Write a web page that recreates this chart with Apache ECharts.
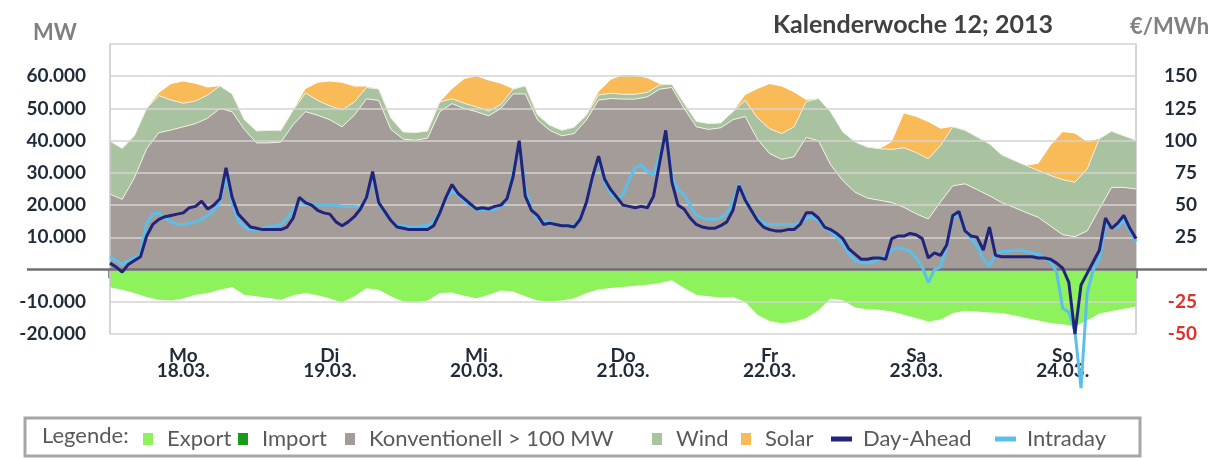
<!DOCTYPE html>
<html>
<head>
<meta charset="utf-8">
<script src="https://cdn.jsdelivr.net/npm/echarts@6/dist/echarts.min.js"></script>
<style>
  html, body { margin: 0; padding: 0; background: #fff; }
  #chart { width: 1225px; height: 458px; }
</style>
</head>
<body>
<div id="chart"></div>
<script>
// Kalenderwoche 12/2013 - Stromerzeugung (MW) und Börsenpreise (€/MWh)
const days = ['Mo\n18.03.', 'Di\n19.03.', 'Mi\n20.03.', 'Do\n21.03.', 'Fr\n22.03.', 'Sa\n23.03.', 'So\n24.03.']

// Flächen: alle 2 Stunden (h0 .. h168)
const konventionell = [
  23400, 21800, 28500, 37500, 42500, 43300, 44300, 45300, 47000, 50000, 49000, 43500,
  39300, 39300, 39600, 45000, 49000, 47900, 46500, 44300, 47900, 53000, 52500, 43500,
  40500, 40100, 40800, 49000, 51500, 50000, 49000, 47700, 50000, 54500, 54500, 46500,
  43200, 41500, 42200, 46400, 52600, 53100, 52900, 52900, 53600, 56000, 56500, 50000,
  44300, 43500, 44000, 46500, 47500, 40500, 36000, 34200, 35000, 41000, 40000, 32500,
  27600, 24000, 22200, 21500, 20800, 19300, 17300, 15700, 21000, 26000, 26600, 24800,
  22900, 20800, 19300, 17700, 16200, 13500, 10800, 10200, 12000, 18800, 25500, 25500,
  25000
]
const wind = [
  16400, 15800, 13000, 12500, 11500, 9300, 7300, 7000, 7200, 7000, 5500, 3000,
  3700, 3900, 3600, 4500, 5800, 4600, 4300, 5200, 4100, 3500, 3500, 3500,
  2200, 2400, 2200, 3000, 1500, 1600, 1500, 1500, 1200, 1500, 2500, 1500,
  1600, 1700, 2000, 1500, 1600, 1600, 1500, 1500, 1400, 1300, 1000, 1600,
  1700, 1800, 1500, 2500, 5000, 6600, 7700, 8000, 9300, 11100, 13100, 16400,
  15100, 15600, 15800, 16000, 16500, 18500, 19000, 18700, 17500, 18300, 16600, 16300,
  16100, 14800, 14600, 14600, 14500, 15700, 17100, 16900, 19200, 21800, 17400, 16000,
  15100
]
const solar = [
  0, 0, 0, 0, 800, 5000, 6800, 5400, 2300, 0, 0, 0,
  0, 0, 0, 0, 1200, 5500, 7600, 8500, 4800, 300, 0, 0,
  0, 0, 0, 0, 3000, 7500, 9500, 9500, 6500, 0, 0, 0,
  0, 0, 0, 0, 1000, 4200, 6000, 5800, 4400, 300, 0, 0,
  0, 0, 0, 0, 1700, 8900, 13900, 14600, 10700, 500, 0, 0,
  0, 0, 0, 0, 2300, 10600, 11100, 11400, 5200, 0, 0, 0,
  0, 0, 0, 0, 2100, 9300, 14800, 15100, 8400, 0, 0, 0,
  0
]
const exportMW = [
  -5500, -6300, -7300, -8500, -9400, -9600, -9000, -7800, -7300, -6300, -5400, -7800,
  -8300, -8800, -9400, -8000, -7300, -8000, -9000, -10200, -8300, -5800, -6300, -8300,
  -9900, -10200, -9600, -7300, -7100, -8100, -8900, -7800, -6500, -6800, -8300, -9600,
  -9900, -9600, -8900, -7300, -6200, -5700, -5400, -5000, -4700, -4200, -3300, -5700,
  -7800, -8300, -8700, -8500, -10000, -14000, -16000, -16700, -16200, -15000, -12600, -9000,
  -9500, -11800, -12300, -12500, -13000, -14000, -15000, -16100, -15500, -13500, -12800, -13000,
  -13300, -13500, -14200, -15000, -15800, -16600, -17000, -17600, -15800, -13600, -12900, -12200,
  -11500
]
const importMW = []

// Preise: stündlich (h0 .. h168)
const dayAhead = [
  5, 2, -2, 4, 7, 10, 26, 35, 39, 41, 42, 43, 44, 48, 49, 53, 47, 50, 55, 79, 56, 43, 38, 33,
  32, 31, 31, 31, 31, 33, 40, 56, 52, 50, 46, 44, 43, 37, 34, 37, 41, 47, 56, 76, 52, 45, 38, 33,
  32, 31, 31, 31, 31, 34, 44, 56, 66, 59, 55, 51, 47, 48, 47, 49, 50, 55, 72, 100, 57, 46, 42, 35,
  36, 35, 34, 34, 33, 39, 52, 72, 88, 70, 62, 56, 50, 49, 48, 49, 48, 57, 83, 108, 68, 50, 47, 40,
  35, 33, 32, 32, 34, 37, 46, 65, 54, 46, 38, 33, 31, 30, 30, 31, 31, 35, 44, 44, 40, 33, 31, 28,
  24, 16, 12, 8, 8, 9, 9, 8, 24, 26, 26, 28, 27, 24, 9, 13, 11, 19, 42, 45, 30, 26, 25, 15,
  33, 11, 10, 10, 10, 10, 10, 10, 9, 9, 8, 5, 1, -10, -50, -12, -3, 6, 15, 40, 32, 36, 42, 32,
  24
]
const intraday = [
  10, 7, 4, 7, 9, 12, 36, 43, 44, 40, 37, 35, 35, 36, 37, 39, 42, 46, 52, 73, 52, 38, 33, 31,
  31, 32, 33, 34, 35, 40, 46, 52, 51, 51, 50, 50, 50, 50, 49, 49, 49, 48, 55, 73, 51, 44, 39, 34,
  34, 33, 33, 34, 34, 37, 45, 55, 61, 58, 53, 50, 47, 46, 46, 47, 49, 54, 75, 98, 63, 47, 39, 37,
  37, 35, 34, 34, 34, 40, 52, 72, 86, 68, 59, 55, 58, 70, 79, 81, 76, 74, 88, 106, 72, 62, 58, 50,
  42, 40, 39, 39, 40, 44, 52, 66, 56, 46, 40, 36, 35, 35, 35, 35, 35, 36, 40, 41, 38, 32, 30, 25,
  20, 12, 7, 5, 5, 6, 8, 11, 15, 17, 16, 14, 9, 2, -10, 0, 2, 18, 40, 44, 30, 24, 18, 8,
  3, 12, 14, 14, 15, 15, 14, 13, 12, 9, 6, -2, -30, -33, -48, -92, -18, 0, 8, 35, 33, 33, 38, 30,
  22
]

const areaHours = konventionell.map((_, i) => String(i * 2))
const priceHours = dayAhead.map((_, i) => i)
const pairs = (xs, ys) => ys.map((v, i) => [xs[i], v])

const labelFont = 'Lato, "Open Sans", sans-serif'
const legendFont = 'Lato, "Open Sans", sans-serif'

const chart = echarts.init(document.getElementById('chart'))

const areaSeries = (name, data, color, stack, line) => ({
  name,
  type: 'line',
  xAxisIndex: 2,
  stack,
  data,
  symbol: 'none',
  itemStyle: { color },
  lineStyle: line ? { color: '#f3f0e4', width: 1 } : { width: 0 },
  areaStyle: { color, opacity: 1 },
  z: 2
})

// Legende: ein Eintrag je Komponente, damit die Abstände wie im Original sitzen
const legendItems = [
  ['Export', 138, 'rect'], ['Import', 233, 'rect'], ['Konventionell > 100 MW', 340, 'rect'],
  ['Wind', 647, 'rect'], ['Solar', 736, 'rect'], ['Day-Ahead', 826, 'line'], ['Intraday', 990, 'line']
]
const legends = legendItems.map(([name, left, kind]) => ({
  data: [name],
  left,
  top: 423,
  icon: 'rect',
  itemWidth: kind === 'rect' ? 10 : 21,
  itemHeight: kind === 'rect' ? 12 : 5,
  textStyle: {
    fontFamily: legendFont,
    fontSize: 22,
    color: '#595959',
    padding: [0, 0, 0, kind === 'rect' ? 9 : 6]
  }
}))

const option = {
  animation: false,
  backgroundColor: '#ffffff',
  title: {
    text: 'Kalenderwoche 12; 2013',
    left: 768,
    top: 7,
    textStyle: { fontFamily: labelFont, fontSize: 25, fontWeight: 'bold', color: '#404040' }
  },
  grid: { left: 110, right: 89, top: 44, bottom: 124 },
  legend: legends,
  xAxis: [
    { type: 'value', min: 0, max: 168, show: false },
    {
      type: 'category',
      data: days,
      boundaryGap: true,
      position: 'bottom',
      axisLine: { show: true, lineStyle: { color: '#d4d4d4', width: 1.5 } },
      axisTick: { show: true, length: 9, lineStyle: { color: '#8c8c8c', width: 4 } },
      axisLabel: {
        margin: 14,
        fontFamily: labelFont,
        fontSize: 19,
        fontWeight: 'bold',
        lineHeight: 15,
        color: '#1f2b38'
      }
    },
    { type: 'category', data: areaHours, boundaryGap: false, show: false }
  ],
  yAxis: [
    {
      type: 'value',
      min: -20000,
      max: 70000,
      interval: 10000,
      z: 3,
      axisLine: { show: true, lineStyle: { color: '#c8c8c8', width: 1.5 } },
      axisTick: { show: false },
      splitLine: { lineStyle: { color: '#d6d3d0', width: 1.5 } },
      axisLabel: {
        margin: 24,
        fontFamily: labelFont,
        fontSize: 19,
        fontWeight: 'bold',
        color: '#1f2b38',
        formatter: v => (v === 0 || v === 70000) ? '' : (v < 0 ? '-' : '') + Math.abs(v) / 1000 + '.000'
      }
    },
    {
      type: 'value',
      min: -50,
      max: 175,
      interval: 25,
      position: 'right',
      axisLine: { show: true, lineStyle: { color: '#c8c8c8', width: 1.5 } },
      axisTick: { show: false },
      splitLine: { show: false },
      axisLabel: {
        margin: 61,
        align: 'right',
        fontFamily: labelFont,
        fontSize: 19,
        fontWeight: 'bold',
        color: v => (v < 0 ? '#e0302a' : '#1f2b38'),
        formatter: v => (v === 0 || v === 175) ? '' : String(v)
      }
    }
  ],
  series: [
    areaSeries('Export', exportMW, '#8ef25c', null, false),
    { name: 'Import', type: 'line', data: importMW, symbol: 'none', itemStyle: { color: '#1a9a1a' } },
    areaSeries('Konventionell > 100 MW', konventionell, '#a39c98', 'gen', true),
    areaSeries('Wind', wind, '#a9c29f', 'gen', true),
    areaSeries('Solar', solar, '#f9bb57', 'gen', false),
    {
      name: 'Intraday',
      type: 'line',
      yAxisIndex: 1,
      data: pairs(priceHours, intraday),
      symbol: 'none',
      clip: false,
      itemStyle: { color: '#5cbfeb' },
      lineStyle: { color: '#5cbfeb', width: 3 },
      z: 5
    },
    {
      name: 'Day-Ahead',
      type: 'line',
      yAxisIndex: 1,
      data: pairs(priceHours, dayAhead),
      symbol: 'none',
      clip: false,
      itemStyle: { color: '#22237a' },
      lineStyle: { color: '#22237a', width: 3 },
      z: 6
    }
  ]
}

chart.setOption(option)

// Nulllinie über die ganze Breite, Achsentitel und Legendenrahmen
const zeroY = chart.convertToPixel({ yAxisIndex: 0 }, 0)
chart.setOption({
  graphic: [
    { type: 'line', z: 4, shape: { x1: 27, y1: zeroY, x2: 1207, y2: zeroY }, style: { stroke: '#6f6f6f', lineWidth: 2.5 } },
    { type: 'text', left: 33, top: 22, style: { text: 'MW', font: 'bold 22px ' + labelFont, fill: '#808080' } },
    { type: 'text', left: 1130, top: 16, style: { text: '€/MWh', font: 'bold 22px ' + labelFont, fill: '#808080' } },
    { type: 'rect', z: 0, shape: { x: 25, y: 418, width: 1115, height: 38 }, style: { fill: 'none', stroke: '#a6a6a6', lineWidth: 3 } },
    { type: 'text', left: 42, top: 425, style: { text: 'Legende:', font: '22px ' + legendFont, fill: '#595959' } }
  ]
})

window.addEventListener('resize', () => chart.resize())
</script>
</body>
</html>
